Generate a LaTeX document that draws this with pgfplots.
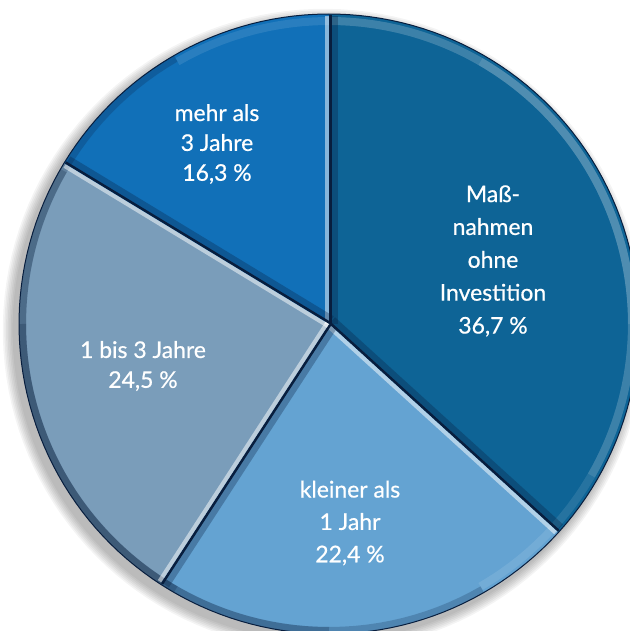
\documentclass[border=0pt]{standalone}
\usepackage{pgfplots}
\pgfplotsset{compat=1.18}
\usepackage{fontspec}
\setmainfont{Lato}
\newfontfamily\labfont[FakeBold=0.6]{Lato}
\definecolor{cA}{RGB}{14,100,150}
\definecolor{cB}{RGB}{100,163,210}
\definecolor{cC}{RGB}{122,157,186}
\definecolor{cD}{RGB}{17,112,184}
\definecolor{navy}{RGB}{8,30,62}
% data (percent), clockwise from 12 o'clock
\def\vA{36.7}% Massnahmen ohne Investition
\def\vB{22.4}% kleiner als 1 Jahr
\def\vC{24.5}% 1 bis 3 Jahre
\def\vD{16.3}% mehr als 3 Jahre
\pgfmathsetmacro\tot{\vA+\vB+\vC+\vD}
\pgfmathsetmacro\aA{90}
\pgfmathsetmacro\aB{90-360*\vA/\tot}
\pgfmathsetmacro\aC{\aB-360*\vB/\tot}
\pgfmathsetmacro\aD{\aC-360*\vC/\tot}
\pgfmathsetmacro\aE{\aD-360*\vD/\tot}
\def\R{310}
\begin{document}
\begin{tikzpicture}
\begin{axis}[x=1bp, y=1bp, scale only axis, xmin=-329, xmax=301, ymin=-307, ymax=324,
  hide axis, clip=true]
% soft drop shadow
\pgfplotsinvokeforeach{1,...,7}{
  \addplot[draw=none, fill=black, fill opacity=0.045, domain=0:360, samples=150]
    ({-5+(\R+#1*1.6)*cos(x)},{-6+(\R+#1*1.6)*sin(x)}) -- cycle;
}
\addplot[draw=none, fill=white, domain=0:360, samples=150] ({\R*cos(x)},{\R*sin(x)}) -- cycle;
% slices
\addplot[fill=cA, draw=none, domain=\aB:\aA, samples=90] ({\R*cos(x)},{\R*sin(x)}) -- (0,0) -- cycle;
\addplot[fill=cB, draw=none, domain=\aC:\aB, samples=90] ({\R*cos(x)},{\R*sin(x)}) -- (0,0) -- cycle;
\addplot[fill=cC, draw=none, domain=\aD:\aC, samples=90] ({\R*cos(x)},{\R*sin(x)}) -- (0,0) -- cycle;
\addplot[fill=cD, draw=none, domain=\aE:\aD, samples=90] ({\R*cos(x)},{\R*sin(x)}) -- (0,0) -- cycle;
% rim: dark towards lower left, light towards upper right
\pgfplotsinvokeforeach{30,60,90}{
  \addplot[navy, line width=7bp, opacity=0.22, domain=210-#1:210+#1, samples=80] ({(\R-3.5)*cos(x)},{(\R-3.5)*sin(x)});
  \addplot[white, line width=8bp, opacity=0.10, domain=30-#1:30+#1, samples=80] ({(\R-7)*cos(x)},{(\R-7)*sin(x)});
}
% separators
\draw[navy, line width=8bp, opacity=0.3, shift={({\aA-90}:5bp)}] (axis cs:0,0) -- (axis cs:{(\R-2)*cos(\aA)},{(\R-2)*sin(\aA)});
\draw[navy, line width=2.5bp, shift={({\aA-90}:1.4bp)}] (axis cs:0,0) -- (axis cs:{(\R-1)*cos(\aA)},{(\R-1)*sin(\aA)});
\draw[white, line width=4bp, opacity=0.5, shift={({\aA+90}:2.2bp)}] (axis cs:0,0) -- (axis cs:{(\R-2)*cos(\aA)},{(\R-2)*sin(\aA)});
\draw[navy, line width=8bp, opacity=0.3, shift={({\aB+90}:5bp)}] (axis cs:0,0) -- (axis cs:{(\R-2)*cos(\aB)},{(\R-2)*sin(\aB)});
\draw[navy, line width=2.5bp, shift={({\aB+90}:1.4bp)}] (axis cs:0,0) -- (axis cs:{(\R-1)*cos(\aB)},{(\R-1)*sin(\aB)});
\draw[white, line width=4bp, opacity=0.5, shift={({\aB-90}:2.2bp)}] (axis cs:0,0) -- (axis cs:{(\R-2)*cos(\aB)},{(\R-2)*sin(\aB)});
\draw[navy, line width=8bp, opacity=0.3, shift={({\aC+90}:5bp)}] (axis cs:0,0) -- (axis cs:{(\R-2)*cos(\aC)},{(\R-2)*sin(\aC)});
\draw[navy, line width=2.5bp, shift={({\aC+90}:1.4bp)}] (axis cs:0,0) -- (axis cs:{(\R-1)*cos(\aC)},{(\R-1)*sin(\aC)});
\draw[white, line width=4bp, opacity=0.5, shift={({\aC-90}:2.2bp)}] (axis cs:0,0) -- (axis cs:{(\R-2)*cos(\aC)},{(\R-2)*sin(\aC)});
\draw[navy, line width=8bp, opacity=0.3, shift={({\aD-90}:5bp)}] (axis cs:0,0) -- (axis cs:{(\R-2)*cos(\aD)},{(\R-2)*sin(\aD)});
\draw[navy, line width=2.5bp, shift={({\aD-90}:1.4bp)}] (axis cs:0,0) -- (axis cs:{(\R-1)*cos(\aD)},{(\R-1)*sin(\aD)});
\draw[white, line width=4bp, opacity=0.5, shift={({\aD+90}:2.2bp)}] (axis cs:0,0) -- (axis cs:{(\R-2)*cos(\aD)},{(\R-2)*sin(\aD)});
% outline
\addplot[navy, line width=1bp, domain=0:360, samples=180] ({\R*cos(x)},{\R*sin(x)});
% labels
\node[text=white, align=center, font=\labfont\fontsize{23}{33}\selectfont] at (axis cs:164,63)
  {Maß-\\nahmen\\ohne\\Investition\\36,7 \%};
\node[text=white, align=center, font=\labfont\fontsize{23}{32.5}\selectfont] at (axis cs:21,-199)
  {kleiner als\\1 Jahr\\22,4 \%};
\node[text=white, align=center, font=\labfont\fontsize{23}{30}\selectfont] at (axis cs:-186,-42)
  {1 bis 3 Jahre\\24,5 \%};
\node[text=white, align=center, font=\labfont\fontsize{23}{30}\selectfont] at (axis cs:-112,180)
  {mehr als\\3 Jahre\\16,3 \%};
\end{axis}
\pgfresetboundingbox
\path[use as bounding box] (current axis.south west) rectangle (current axis.north east);
\end{tikzpicture}
\end{document}
